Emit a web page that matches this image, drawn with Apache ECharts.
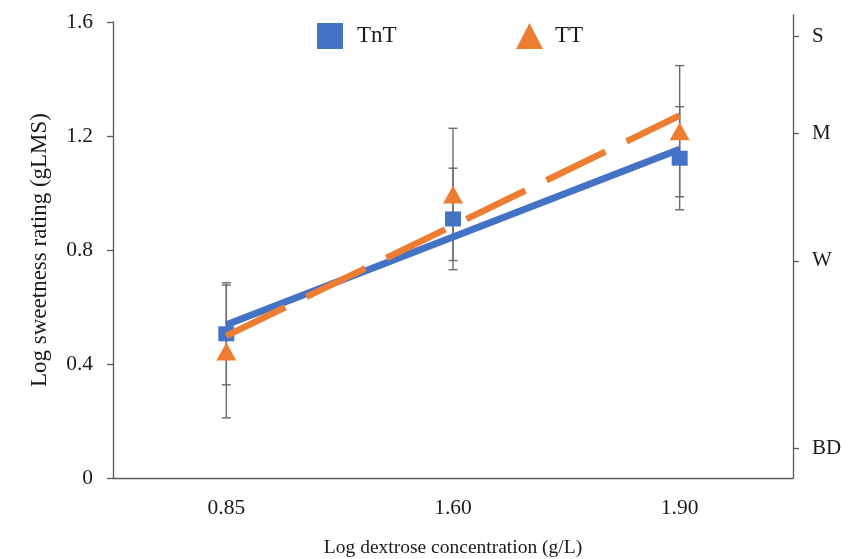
<!DOCTYPE html>
<html>
<head>
<meta charset="utf-8">
<script src="https://cdn.jsdelivr.net/npm/echarts@6/dist/echarts.min.js"></script>
<style>
  html, body { margin: 0; padding: 0; background: #fff; }
  #chart { width: 860px; height: 559px; }
</style>
</head>
<body>
<div id="chart"></div>
<script>
// Log dextrose concentration levels (category axis)
const categories = ['0.85', '1.60', '1.90'];

// Mean log sweetness ratings and their error half-widths
const tntMeans = [0.506, 0.909, 1.122];
const tntErr   = [0.179, 0.178, 0.181];
const ttMeans  = [0.444, 0.995, 1.217];
const ttErr    = [0.233, 0.232, 0.230];

// Left axis ticks
const leftTicks = [0, 0.4, 0.8, 1.2, 1.6];

// gLMS descriptor anchors on the right axis (positions in log units)
const rightTickValues = [0.103, 0.762, 1.209, 1.549];
const rightTickLabels = ['BD', 'W', 'M', 'S'];

const BLUE = '#4472C4';
const ORANGE = '#ED7D31';
const AXIS = '#595959';
const TEXT = '#1a1a1a';
const FONT = '"Liberation Serif", "Times New Roman", serif';

// Least-squares line over the category positions 1..n
function linearFit(values) {
  const n = values.length;
  const xs = values.map((_, i) => i + 1);
  const mx = xs.reduce((a, b) => a + b, 0) / n;
  const my = values.reduce((a, b) => a + b, 0) / n;
  let sxy = 0, sxx = 0;
  for (let i = 0; i < n; i++) {
    sxy += (xs[i] - mx) * (values[i] - my);
    sxx += (xs[i] - mx) * (xs[i] - mx);
  }
  const slope = sxy / sxx;
  const icpt = my - slope * mx;
  return [[0, icpt + slope * 1], [n - 1, icpt + slope * n]];
}

function errorData(means, errs) {
  return means.map((m, i) => [i, m - errs[i], m + errs[i]]);
}

function errorBarItem(params, api) {
  const x = api.value(0);
  const lo = api.coord([x, api.value(1)]);
  const hi = api.coord([x, api.value(2)]);
  const half = 4.5;
  const style = { stroke: '#6b6b6b', lineWidth: 1.4 };
  return {
    type: 'group',
    children: [
      { type: 'line', shape: { x1: lo[0], y1: lo[1], x2: hi[0], y2: hi[1] }, style },
      { type: 'line', shape: { x1: lo[0] - half, y1: lo[1], x2: lo[0] + half, y2: lo[1] }, style },
      { type: 'line', shape: { x1: hi[0] - half, y1: hi[1], x2: hi[0] + half, y2: hi[1] }, style }
    ]
  };
}

const chart = echarts.init(document.getElementById('chart'));

const option = {
  backgroundColor: '#fff',
  animation: false,
  textStyle: { fontFamily: FONT, color: TEXT },
  legend: [
    {
      data: [{ name: 'TnT', icon: 'rect' }],
      left: 317, top: 23, padding: 0,
      itemWidth: 26, itemHeight: 26,
      textStyle: { fontFamily: FONT, fontSize: 23, color: TEXT, padding: [4, 0, 0, 9] },
      selectedMode: false
    },
    {
      data: [{ name: 'TT', icon: 'triangle' }],
      left: 516, top: 23, padding: 0,
      itemWidth: 27, itemHeight: 26,
      textStyle: { fontFamily: FONT, fontSize: 23, color: TEXT, padding: [4, 0, 0, 7] },
      selectedMode: false
    }
  ],
  grid: [
    { left: 113, right: 67, top: 22, bottom: 81, outerBoundsMode: 'none' },
    { left: 113, right: 67, top: 15, bottom: 81, outerBoundsMode: 'none' }
  ],
  xAxis: [
    {
      type: 'category',
      gridIndex: 0,
      data: categories,
      boundaryGap: true,
      axisLine: { lineStyle: { color: AXIS, width: 1.3 } },
      axisTick: { show: false },
      axisLabel: { fontFamily: FONT, fontSize: 21.5, color: TEXT, margin: 19 },
      name: 'Log dextrose concentration (g/L)',
      nameLocation: 'middle',
      nameGap: 60,
      nameTextStyle: { fontFamily: FONT, fontSize: 19.5, color: TEXT }
    },
    {
      type: 'category',
      gridIndex: 1,
      data: categories,
      show: false
    }
  ],
  yAxis: [
    {
      type: 'value',
      gridIndex: 0,
      min: 0, max: 1.6, interval: 0.4,
      axisLine: { show: true, lineStyle: { color: AXIS, width: 1.3 } },
      axisTick: { show: true, length: 6, lineStyle: { color: AXIS, width: 1.3 } },
      splitLine: { show: false },
      axisLabel: {
        fontFamily: FONT, fontSize: 21.5, color: TEXT, margin: 20,
        formatter: v => {
          const t = leftTicks.find(x => Math.abs(x - v) < 1e-6);
          return t === 0 ? '0' : t.toFixed(1);
        }
      },
      name: 'Log sweetness rating (gLMS)',
      nameLocation: 'middle',
      nameRotate: 90,
      nameGap: 62,
      nameTextStyle: { fontFamily: FONT, fontSize: 23, color: TEXT }
    },
    {
      type: 'value',
      gridIndex: 1,
      position: 'right',
      min: 0, max: 1.6246,
      axisLine: { show: true, onZero: false, lineStyle: { color: AXIS, width: 1.3 } },
      axisTick: { show: true, length: 6, inside: false, customValues: rightTickValues, lineStyle: { color: AXIS, width: 1.3 } },
      splitLine: { show: false },
      axisLabel: {
        fontFamily: FONT, fontSize: 21, color: TEXT, margin: 19,
        customValues: rightTickValues,
        formatter: v => {
          let best = 0;
          rightTickValues.forEach((t, i) => {
            if (Math.abs(t - v) < Math.abs(rightTickValues[best] - v)) best = i;
          });
          return rightTickLabels[best];
        }
      }
    }
  ],
  series: [
    {
      name: 'TnT-err', type: 'custom', xAxisIndex: 0, yAxisIndex: 0,
      renderItem: errorBarItem, data: errorData(tntMeans, tntErr),
      encode: { x: 0, y: [1, 2] }, z: 1, silent: true
    },
    {
      name: 'TT-err', type: 'custom', xAxisIndex: 0, yAxisIndex: 0,
      renderItem: errorBarItem, data: errorData(ttMeans, ttErr),
      encode: { x: 0, y: [1, 2] }, z: 1, silent: true
    },
    {
      name: 'TnT', type: 'scatter', xAxisIndex: 0, yAxisIndex: 0,
      data: tntMeans, symbol: 'rect', symbolSize: [16, 15],
      itemStyle: { color: BLUE, opacity: 1 }, z: 3
    },
    {
      name: 'TT', type: 'scatter', xAxisIndex: 0, yAxisIndex: 0,
      data: ttMeans, symbol: 'triangle', symbolSize: [20, 18],
      itemStyle: { color: ORANGE, opacity: 1 }, z: 3
    },
    {
      name: 'TnT-fit', type: 'line', xAxisIndex: 0, yAxisIndex: 0,
      data: linearFit(tntMeans), showSymbol: false, symbol: 'none',
      lineStyle: { color: BLUE, width: 7, cap: 'butt' }, z: 4, silent: true
    },
    {
      name: 'TT-fit', type: 'line', xAxisIndex: 0, yAxisIndex: 0,
      data: linearFit(ttMeans), showSymbol: false, symbol: 'none',
      lineStyle: { color: ORANGE, width: 6.5, type: [65.5, 23.5], cap: 'butt' }, z: 5, silent: true
    }
  ]
};

chart.setOption(option);
</script>
</body>
</html>
